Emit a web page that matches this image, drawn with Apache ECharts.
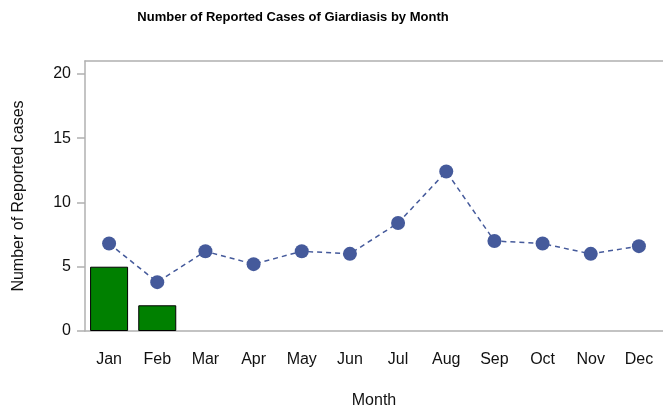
<!DOCTYPE html>
<html>
<head>
<meta charset="utf-8">
<script src="https://cdn.jsdelivr.net/npm/echarts@6/dist/echarts.min.js"></script>
<style>html,body{margin:0;padding:0;background:#fff}#c{width:663px;height:414px}</style>
</head>
<body>
<div id="c"></div>
<script>
const months = ['Jan','Feb','Mar','Apr','May','Jun','Jul','Aug','Sep','Oct','Nov','Dec'];
const barValues = [5, 2, null, null, null, null, null, null, null, null, null, null];
const lineValues = [6.8, 3.8, 6.2, 5.2, 6.2, 6.0, 8.4, 12.4, 7.0, 6.8, 6.0, 6.6];
const yTicks = [0, 5, 10, 15, 20];

const chart = echarts.init(document.getElementById('c'), null, {renderer: 'canvas'});
const font = 'Liberation Sans, Arial, sans-serif';
chart.setOption({
  animation: false,
  backgroundColor: '#fff',
  title: {
    text: 'Number of Reported Cases of Giardiasis by Month',
    left: 288, top: 6, textAlign: 'center',
    textStyle: {fontFamily: font, fontSize: 13, fontWeight: 'bold', color: '#000'}
  },
  grid: {left: 85, right: 0, top: 61, bottom: 83, containLabel: false},
  xAxis: [{
    type: 'category', data: months, position: 'bottom',
    name: 'Month', nameLocation: 'middle', nameGap: 62,
    nameTextStyle: {fontFamily: font, fontSize: 16, color: '#111'},
    axisLine: {lineStyle: {color: '#b0b0b0', width: 1.5}},
    axisTick: {show: false},
    axisLabel: {fontFamily: font, fontSize: 16, color: '#111', margin: 21, interval: 0},
    splitLine: {show: false}
  }, {
    type: 'category', data: months, position: 'top',
    axisLine: {lineStyle: {color: '#b0b0b0', width: 1.5}},
    axisTick: {show: false}, axisLabel: {show: false}, splitLine: {show: false}
  }],
  yAxis: {
    type: 'value', min: 0, max: 21,
    name: 'Number of Reported cases', nameLocation: 'middle', nameGap: 58, nameRotate: 90,
    nameTextStyle: {fontFamily: font, fontSize: 16, color: '#111'},
    axisLine: {show: true, lineStyle: {color: '#b0b0b0', width: 1.5}},
    axisTick: {show: true, length: 8, customValues: yTicks, lineStyle: {color: '#b0b0b0', width: 1.5}},
    axisLabel: {fontFamily: font, fontSize: 16, color: '#111', margin: 14, customValues: yTicks},
    splitLine: {show: false}
  },
  series: [{
    type: 'bar', data: barValues, barWidth: 38, z: 2,
    itemStyle: {color: '#008000', borderColor: '#000', borderWidth: 1}
  }, {
    type: 'line', data: lineValues, z: 3,
    symbol: 'circle', symbolSize: 14,
    lineStyle: {color: '#455a9b', width: 1.5, type: [5, 4]},
    itemStyle: {color: '#455a9b'}
  }]
});
</script>
</body>
</html>
